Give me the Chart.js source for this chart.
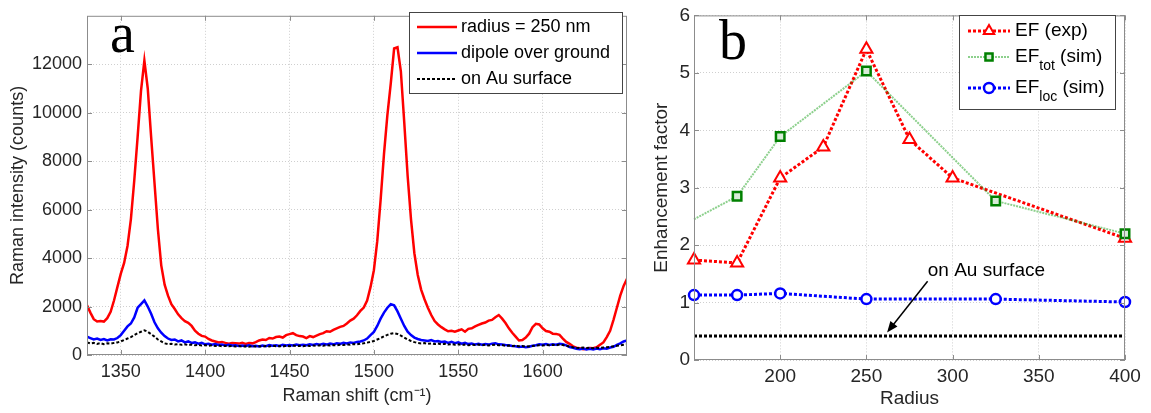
<!DOCTYPE html>
<html>
<head>
<script src="https://cdn.jsdelivr.net/npm/chart.js@4.4.0/dist/chart.umd.min.js"></script>
<style>
  body { margin: 0; background: #fff; width: 1151px; height: 413px; overflow: hidden; position: relative; }
  #chartA { position: absolute; left: 0; top: 0; }
  #chartB { position: absolute; left: 640px; top: 0; }
</style>
</head>
<body>
<canvas id="chartA" width="645" height="413"></canvas>
<canvas id="chartB" width="511" height="413"></canvas>

<script>
// ---- panel a : Raman spectra ----
const ramanShift = [
  1330,1332,1334,1336,1338,1340,1342,1344,1346,1348,
  1350,1352,1354,1356,1358,1360,1362,1364,1366,1368,
  1370,1372,1374,1376,1378,1380,1382,1384,1386,1388,
  1390,1392,1394,1396,1398,1400,1402,1404,1406,1408,
  1410,1412,1414,1416,1418,1420,1422,1424,1426,1428,
  1430,1432,1434,1436,1438,1440,1442,1444,1446,1448,
  1450,1452,1454,1456,1458,1460,1462,1464,1466,1468,
  1470,1472,1474,1476,1478,1480,1482,1484,1486,1488,
  1490,1492,1494,1496,1498,1500,1502,1504,1506,1508,
  1510,1512,1514,1516,1518,1520,1522,1524,1526,1528,
  1530,1532,1534,1536,1538,1540,1542,1544,1546,1548,
  1550,1552,1554,1556,1558,1560,1562,1564,1566,1568,
  1570,1572,1574,1576,1578,1580,1582,1584,1586,1588,
  1590,1592,1594,1596,1598,1600,1602,1604,1606,1608,
  1610,1612,1614,1616,1618,1620,1622,1624,1626,1628,
  1630,1632,1634,1636,1638,1640,1642,1644,1646,1648,
  1650
];
const radius250 = [
  2050,1750,1480,1380,1400,1380,1520,1780,2250,2800,
  3350,3800,4500,5600,7200,9000,10900,12150,11000,9000,
  7100,5200,3700,2900,2450,2100,1900,1680,1520,1400,
  1330,1200,1000,880,790,760,660,600,560,520,
  540,500,470,490,480,470,500,460,490,480,
  530,600,640,620,700,680,740,760,720,820,
  860,900,820,780,760,700,780,740,800,860,
  900,980,960,1040,1100,1160,1200,1300,1420,1500,
  1640,1820,1960,2250,2800,3500,4700,6400,8300,9900,
  11200,12650,12700,11700,9600,7400,5600,4200,3300,2700,
  2300,1950,1650,1400,1260,1150,1060,980,1000,960,
  1010,1060,960,1080,1100,1180,1240,1300,1340,1420,
  1450,1560,1650,1500,1320,1100,920,760,600,620,
  720,880,1150,1290,1260,1100,990,960,880,870,
  830,680,540,460,360,300,280,240,260,290,
  280,320,420,520,740,1000,1450,1950,2450,2850,
  3150
];
const dipoleOverGround = [
  760,700,640,680,620,660,600,650,640,700,
  820,1000,1180,1300,1550,1950,2100,2250,2000,1700,
  1350,1100,920,780,680,620,640,560,600,520,
  560,500,520,470,500,440,460,420,450,410,
  430,390,420,390,400,370,390,370,400,360,
  380,350,390,360,410,380,400,370,420,390,
  410,390,430,400,420,400,440,410,450,420,
  460,430,470,440,480,460,500,480,520,500,
  540,560,600,680,820,950,1200,1500,1750,1950,
  2100,2050,1800,1500,1200,960,820,720,660,620,
  600,580,620,560,580,540,560,500,540,490,
  520,470,500,450,470,430,460,420,450,430,
  470,480,440,430,410,400,370,360,330,350,
  320,340,380,400,440,420,450,410,440,420,
  460,440,400,330,300,260,240,270,230,260,
  230,270,240,280,260,310,340,420,480,560,
  600
];
const onAuSurface = [
  520,480,500,460,490,450,480,470,500,520,
  560,620,680,740,820,900,960,1020,960,860,
  760,640,560,480,450,460,430,450,420,440,
  410,430,400,420,390,410,380,400,370,390,
  360,380,360,370,350,370,350,360,340,370,
  350,360,340,370,350,380,360,370,350,380,
  360,390,370,380,360,390,370,390,380,400,
  380,410,390,410,400,420,410,430,420,450,
  440,470,480,510,540,580,640,700,770,830,
  880,900,870,800,720,640,580,530,500,480,
  490,460,480,450,470,440,460,430,450,420,
  440,410,430,400,420,410,430,400,420,390,
  410,420,400,410,380,390,370,380,360,370,
  350,360,370,390,400,390,410,400,420,400,
  430,410,380,350,320,300,290,310,290,300,
  280,300,290,310,320,340,360,380,400,420,
  440
];
const shiftTicks = [1350, 1400, 1450, 1500, 1550, 1600];
const intensityTicks = [0, 2000, 4000, 6000, 8000, 10000, 12000];

// ---- panel b : enhancement factor ----
const radiusExp = [150, 175, 200, 225, 250, 275, 300, 400];
const efExp = [1.74, 1.69, 3.17, 3.71, 5.41, 3.84, 3.17, 2.12];
const radiusSim = [150, 175, 200, 250, 325, 400];
const efTot = [2.45, 2.85, 3.89, 5.03, 2.77, 2.20];
const efLoc = [1.13, 1.13, 1.16, 1.06, 1.06, 1.01];
const radiusAu = [150, 400];
const efAu = [0.42, 0.42];
const radiusTicks = [200, 250, 300, 350, 400];
const efTicks = [0, 1, 2, 3, 4, 5, 6];

const FONT = '"Liberation Sans", Arial, sans-serif';
Chart.defaults.font.family = FONT;
Chart.defaults.color = '#262626';

const pts = (xs, ys) => xs.map((x, i) => ({ x: x, y: ys[i] }));

// gray box round the plot with inward ticks, like matlab
const frame = {
  id: 'frame',
  afterDatasetsDraw(chart) {
    const { ctx, chartArea: a, scales } = chart;
    ctx.save();
    ctx.strokeStyle = '#8c8c8c';
    ctx.lineWidth = 1;
    ctx.setLineDash([]);
    ctx.strokeRect(a.left + 0.5, a.top + 0.5, a.width - 1, a.height - 1);
    ctx.beginPath();
    scales.x.ticks.forEach(t => {
      const px = Math.round(scales.x.getPixelForValue(t.value)) + 0.5;
      ctx.moveTo(px, a.bottom); ctx.lineTo(px, a.bottom - 5);
      ctx.moveTo(px, a.top); ctx.lineTo(px, a.top + 5);
    });
    scales.y.ticks.forEach(t => {
      const py = Math.round(scales.y.getPixelForValue(t.value)) + 0.5;
      ctx.moveTo(a.left, py); ctx.lineTo(a.left + 5, py);
      ctx.moveTo(a.right, py); ctx.lineTo(a.right - 5, py);
    });
    ctx.stroke();
    ctx.restore();
  }
};

// legend box inside the plot (needs subscripts, so drawn by hand)
const boxLegend = {
  id: 'boxLegend',
  afterDraw(chart, args, o) {
    const ctx = chart.ctx;
    ctx.save();
    ctx.fillStyle = '#fff';
    ctx.fillRect(o.left, o.top, o.width, o.height);
    ctx.strokeStyle = '#444';
    ctx.lineWidth = 1;
    ctx.strokeRect(o.left + 0.5, o.top + 0.5, o.width - 1, o.height - 1);
    o.rows.forEach(row => {
      const ds = chart.data.datasets[row.dataset];
      const x0 = o.left + o.lineX, x1 = x0 + o.lineLen, y = o.top + row.y;
      ctx.strokeStyle = ds.borderColor;
      ctx.lineWidth = ds.borderWidth;
      ctx.setLineDash(ds.borderDash || []);
      ctx.beginPath(); ctx.moveTo(x0, y); ctx.lineTo(x1, y); ctx.stroke();
      if (row.marker) {
        ctx.setLineDash([]);
        ctx.fillStyle = ds.pointBackgroundColor;
        ctx.strokeStyle = ds.pointBorderColor;
        ctx.lineWidth = ds.pointBorderWidth;
        Chart.helpers.drawPoint(ctx, { pointStyle: ds.pointStyle, radius: row.marker, rotation: 0, borderWidth: ds.pointBorderWidth }, (x0 + x1) / 2, y);
      }
      let tx = x1 + o.gap;
      ctx.fillStyle = '#000';
      ctx.textBaseline = 'middle';
      ctx.textAlign = 'left';
      row.text.forEach(p => {
        ctx.font = (p.sub ? o.subSize : o.fontSize) + 'px ' + FONT;
        ctx.fillText(p.t, tx, y + (p.sub ? o.subShift : 0));
        tx += ctx.measureText(p.t).width;
      });
    });
    ctx.restore();
  }
};

const panelLetter = {
  id: 'panelLetter',
  afterDraw(chart, args, o) {
    const ctx = chart.ctx;
    ctx.save();
    ctx.font = o.size + 'px "Liberation Serif", "Times New Roman", serif';
    ctx.fillStyle = '#000';
    ctx.textBaseline = 'alphabetic';
    ctx.fillText(o.text, o.x, o.y);
    ctx.restore();
  }
};

const auNote = {
  id: 'auNote',
  afterDatasetsDraw(chart, args, o) {
    const { ctx, scales: { x, y } } = chart;
    ctx.save();
    ctx.fillStyle = '#000';
    ctx.font = o.size + 'px ' + FONT;
    ctx.textBaseline = 'middle';
    ctx.fillText(o.text, x.getPixelForValue(o.at[0]), y.getPixelForValue(o.at[1]));
    const fx = x.getPixelForValue(o.from[0]), fy = y.getPixelForValue(o.from[1]);
    const tx = x.getPixelForValue(o.to[0]), ty = y.getPixelForValue(o.to[1]);
    const ang = Math.atan2(ty - fy, tx - fx);
    ctx.strokeStyle = '#000';
    ctx.lineWidth = 1.5;
    ctx.beginPath(); ctx.moveTo(fx, fy);
    ctx.lineTo(tx - 8 * Math.cos(ang), ty - 8 * Math.sin(ang)); ctx.stroke();
    ctx.beginPath();
    ctx.moveTo(tx, ty);
    ctx.lineTo(tx - 11 * Math.cos(ang) + 4.5 * Math.sin(ang), ty - 11 * Math.sin(ang) - 4.5 * Math.cos(ang));
    ctx.lineTo(tx - 11 * Math.cos(ang) - 4.5 * Math.sin(ang), ty - 11 * Math.sin(ang) + 4.5 * Math.cos(ang));
    ctx.closePath(); ctx.fill();
    ctx.restore();
  }
};

const gridOpts = { color: '#cfcfcf', drawTicks: false };
const borderOpts = { display: false, dash: [1, 2] };

new Chart('chartA', {
  type: 'line',
  data: {
    datasets: [
      { label: 'radius = 250 nm', data: pts(ramanShift, radius250), borderColor: '#ff0000', borderWidth: 2.5, pointRadius: 0, order: 2 },
      { label: 'dipole over ground', data: pts(ramanShift, dipoleOverGround), borderColor: '#0000ff', borderWidth: 2.5, pointRadius: 0, order: 1 },
      { label: 'on Au surface', data: pts(ramanShift, onAuSurface), borderColor: '#000000', borderWidth: 2, borderDash: [3, 2], pointRadius: 0, order: 0 }
    ]
  },
  options: {
    responsive: false,
    animation: false,
    layout: { padding: { left: 0, top: 8, right: 18, bottom: 0 } },
    scales: {
      x: {
        type: 'linear', min: 1330, max: 1650,
        afterBuildTicks: s => { s.ticks = shiftTicks.map(v => ({ value: v })); },
        afterFit: s => { s.height = 58; },
        ticks: { callback: v => String(v), padding: 6, font: { size: 18 }, maxRotation: 0, autoSkip: false },
        grid: gridOpts, border: borderOpts,
        title: { display: true, text: 'Raman shift (cm⁻¹)', font: { size: 18 }, padding: { top: 0, bottom: 6 } }
      },
      y: {
        min: 0, max: 14000,
        afterBuildTicks: s => { s.ticks = intensityTicks.map(v => ({ value: v })); },
        afterFit: s => { s.width = 87; },
        ticks: { callback: v => String(v), padding: 5, font: { size: 18 } },
        grid: gridOpts, border: borderOpts,
        title: { display: true, text: 'Raman intensity (counts)', font: { size: 18 }, padding: { top: 7, bottom: 0 } }
      }
    },
    plugins: {
      legend: { display: false },
      tooltip: { enabled: false },
      boxLegend: {
        left: 409, top: 12, width: 214, height: 82, lineX: 8, lineLen: 40, gap: 4,
        fontSize: 18, subSize: 13, subShift: 8,
        rows: [
          { dataset: 0, y: 15, text: [{ t: 'radius = 250 nm' }] },
          { dataset: 1, y: 41, text: [{ t: 'dipole over ground' }] },
          { dataset: 2, y: 67, text: [{ t: 'on Au surface' }] }
        ]
      },
      panelLetter: { text: 'a', x: 110, y: 52, size: 56 }
    }
  },
  plugins: [frame, boxLegend, panelLetter]
});

new Chart('chartB', {
  type: 'line',
  data: {
    datasets: [
      { label: 'EF (exp)', data: pts(radiusExp, efExp), borderColor: '#ff0000', borderWidth: 3, borderDash: [3, 2],
        pointStyle: 'triangle', pointRadius: 7, pointBorderWidth: 2, pointBorderColor: '#ff0000', pointBackgroundColor: '#fff', clip: false, order: 1 },
      { label: 'EFtot (sim)', data: pts(radiusSim, efTot), borderColor: 'rgba(0,150,0,0.45)', borderWidth: 2, borderDash: [2, 1],
        pointStyle: 'rect', pointRadius: [0, 6, 6, 6, 6, 6], pointBorderWidth: 2.5, pointBorderColor: '#008000', pointBackgroundColor: '#d8ecd8', clip: false, order: 0 },
      { label: 'EFloc (sim)', data: pts(radiusSim, efLoc), borderColor: '#0000ff', borderWidth: 3, borderDash: [3, 2],
        pointStyle: 'circle', pointRadius: 5, pointBorderWidth: 2.5, pointBorderColor: '#0000ff', pointBackgroundColor: '#fff', clip: false, order: 2 },
      { label: 'on Au surface', data: pts(radiusAu, efAu), borderColor: '#000000', borderWidth: 3, borderDash: [3, 2], pointRadius: 0, order: 3 }
    ]
  },
  options: {
    responsive: false,
    animation: false,
    layout: { padding: { left: 0, top: 7, right: 26, bottom: 0 } },
    scales: {
      x: {
        type: 'linear', min: 150, max: 400,
        afterBuildTicks: s => { s.ticks = radiusTicks.map(v => ({ value: v })); },
        afterFit: s => { s.height = 53; },
        ticks: { callback: v => String(v), padding: 5, font: { size: 19 }, maxRotation: 0, autoSkip: false },
        grid: gridOpts, border: borderOpts,
        title: { display: true, text: 'Radius', font: { size: 19 }, padding: { top: 0, bottom: 3 } }
      },
      y: {
        min: 0, max: 6,
        afterBuildTicks: s => { s.ticks = efTicks.map(v => ({ value: v })); },
        afterFit: s => { s.width = 54; },
        ticks: { callback: v => String(v), padding: 4, font: { size: 19 } },
        grid: gridOpts, border: borderOpts,
        title: { display: true, text: 'Enhancement factor', font: { size: 19 }, padding: { top: 10, bottom: 0 } }
      }
    },
    plugins: {
      legend: { display: false },
      tooltip: { enabled: false },
      boxLegend: {
        left: 319, top: 15, width: 157, height: 95, lineX: 9, lineLen: 42, gap: 5,
        fontSize: 19, subSize: 14, subShift: 9,
        rows: [
          { dataset: 0, y: 16, marker: 6, text: [{ t: 'EF (exp)' }] },
          { dataset: 1, y: 42, marker: 5, text: [{ t: 'EF' }, { t: 'tot', sub: true }, { t: ' (sim)' }] },
          { dataset: 2, y: 73, marker: 5, text: [{ t: 'EF' }, { t: 'loc', sub: true }, { t: ' (sim)' }] }
        ]
      },
      auNote: { text: 'on Au surface', at: [285.6, 1.56], from: [285.5, 1.37], to: [262, 0.48], size: 19 },
      panelLetter: { text: 'b', x: 79, y: 59, size: 56 }
    }
  },
  plugins: [frame, auNote, boxLegend, panelLetter]
});
</script>
</body>
</html>
